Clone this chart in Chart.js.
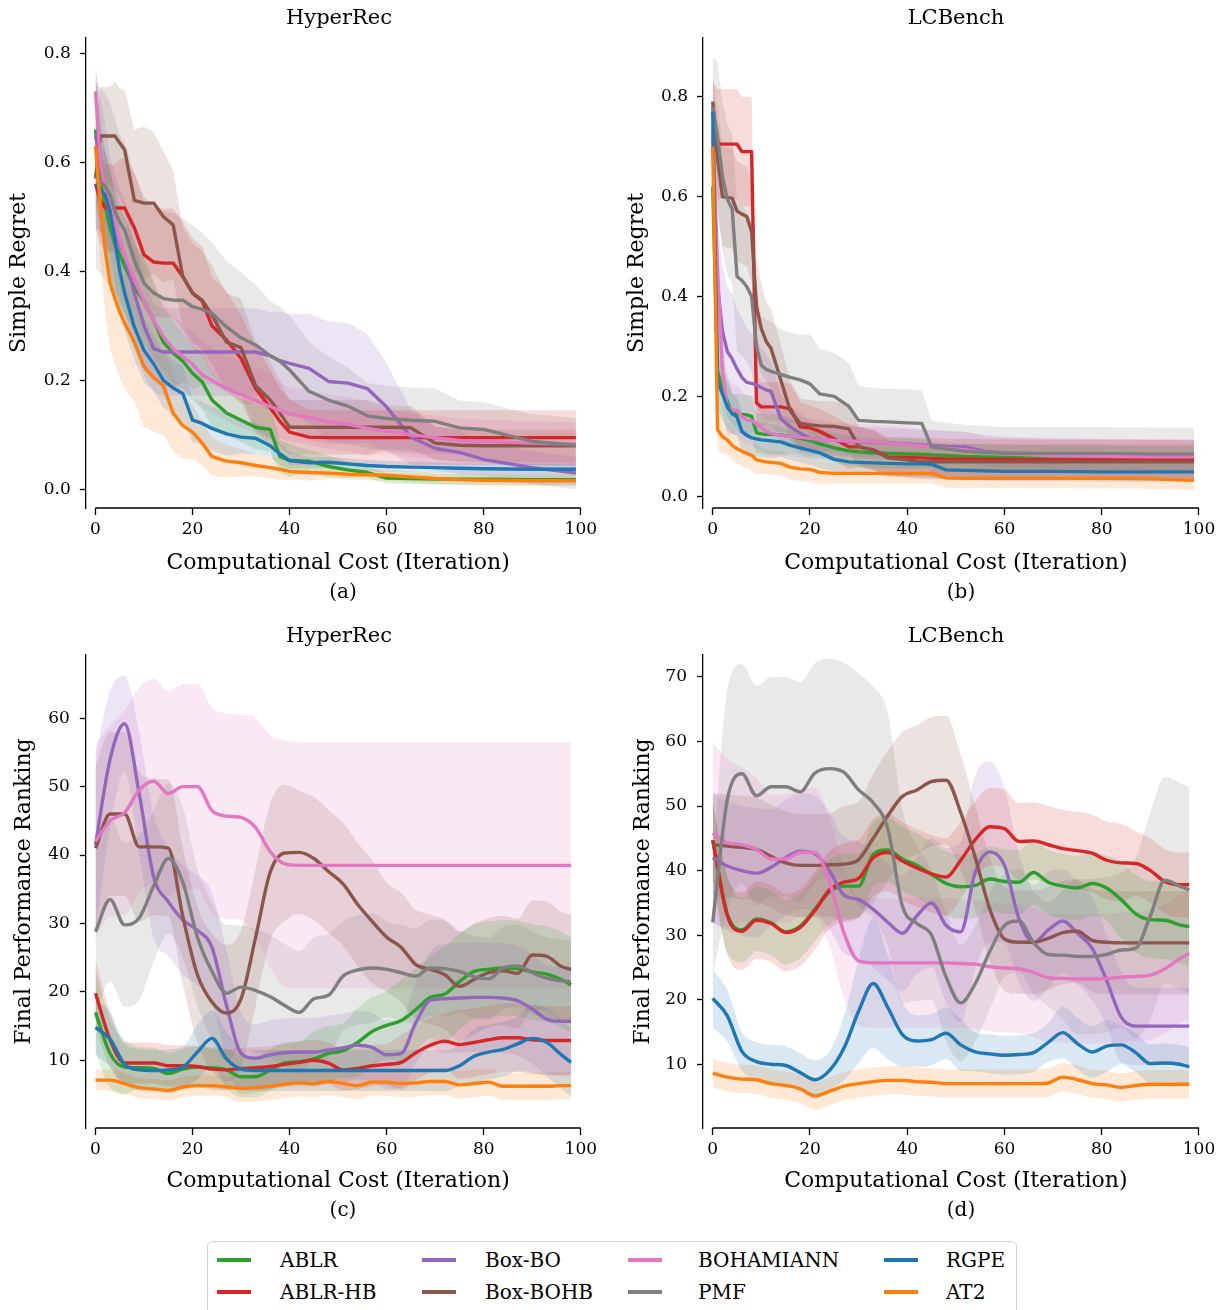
<!DOCTYPE html>
<html>
<head>
<meta charset="utf-8">
<script src="https://cdn.jsdelivr.net/npm/chart.js@4.4.0/dist/chart.umd.min.js"></script>
<style>
html, body { margin: 0; padding: 0; background: #fff; overflow: hidden; }
body { position: relative; width: 1225px; height: 1310px; font-family: 'DejaVu Serif', serif; color: #000; }
canvas { position: absolute; }
.ttl { position: absolute; font-size: 21px; line-height: 26px; white-space: nowrap; transform: translateX(-50%); }
.cap { position: absolute; font-size: 20px; line-height: 24px; white-space: nowrap; transform: translateX(-50%); }
#legend { position: absolute; left: 207px; top: 1241px; width: 808px; height: 80px; border: 1.5px solid #d4d4d4; border-radius: 5px; }
.leg-line { position: absolute; width: 34px; height: 4px; }
.leg-txt { position: absolute; font-size: 20px; line-height: 24px; white-space: nowrap; }
</style>
</head>
<body>
<canvas id="cA" width="612" height="580" style="left:0;top:0"></canvas>
<canvas id="cB" width="613" height="580" style="left:612px;top:0"></canvas>
<canvas id="cC" width="612" height="582" style="left:0;top:618px"></canvas>
<canvas id="cD" width="613" height="582" style="left:612px;top:618px"></canvas>

<div class="ttl" style="left:339px;top:4px">HyperRec</div>
<div class="ttl" style="left:956px;top:4px">LCBench</div>
<div class="ttl" style="left:339px;top:622px">HyperRec</div>
<div class="ttl" style="left:956px;top:622px">LCBench</div>
<div class="cap" style="left:343px;top:579px">(a)</div>
<div class="cap" style="left:961px;top:579px">(b)</div>
<div class="cap" style="left:343px;top:1197px">(c)</div>
<div class="cap" style="left:961px;top:1197px">(d)</div>
<div id="legend"></div>

<script>
const methods = ['ABLR', 'ABLR-HB', 'Box-BO', 'Box-BOHB', 'BOHAMIANN', 'PMF', 'RGPE', 'AT2'];
const colors = ['#2ca02c', '#d62728', '#9467bd', '#8c564b', '#e377c2', '#7f7f7f', '#1f77b4', '#ff7f0e'];

const xTicks = [0, 20, 40, 60, 80, 100];
const regretTicks = [0, 0.2, 0.4, 0.6, 0.8];
const rankTicksC = [10, 20, 30, 40, 50, 60];
const rankTicksD = [10, 20, 30, 40, 50, 60, 70];

// (a) HyperRec, simple regret
const xA = [0,1,2,3,4,5,6,8,10,12,14,16,18,20,22,24,27,30,33,36,38,40,44,48,52,56,60,65,70,75,80,90,99];
const aAblr = [0.66,0.58,0.52,0.48,0.45,0.43,0.41,0.37,0.345,0.31,0.27,0.25,0.235,0.213,0.197,0.164,0.14,0.127,0.114,0.11,0.06,0.053,0.052,0.042,0.036,0.031,0.021,0.02,0.019,0.019,0.019,0.018,0.018];
const aAblrHb = [0.56,0.53,0.516,0.516,0.516,0.516,0.516,0.48,0.43,0.417,0.415,0.415,0.39,0.36,0.345,0.30,0.274,0.24,0.185,0.15,0.125,0.105,0.096,0.095,0.095,0.095,0.095,0.095,0.095,0.095,0.095,0.095,0.095];
const aBoxBo = [0.65,0.60,0.55,0.50,0.47,0.45,0.43,0.36,0.30,0.258,0.252,0.252,0.252,0.252,0.252,0.252,0.252,0.252,0.252,0.245,0.236,0.231,0.222,0.198,0.195,0.185,0.151,0.096,0.075,0.068,0.055,0.04,0.03];
const aBoxBohb = [0.57,0.648,0.648,0.648,0.648,0.635,0.623,0.53,0.525,0.525,0.50,0.485,0.39,0.36,0.347,0.32,0.27,0.26,0.19,0.164,0.14,0.114,0.114,0.114,0.114,0.114,0.114,0.113,0.085,0.081,0.08,0.08,0.08];
const aBoham = [0.73,0.60,0.55,0.52,0.49,0.455,0.43,0.385,0.345,0.31,0.28,0.258,0.243,0.23,0.21,0.20,0.185,0.174,0.163,0.152,0.145,0.138,0.132,0.124,0.12,0.112,0.107,0.1,0.095,0.09,0.088,0.085,0.083];
const aPmf = [0.575,0.565,0.555,0.54,0.51,0.49,0.476,0.42,0.378,0.36,0.35,0.347,0.347,0.335,0.33,0.323,0.298,0.278,0.265,0.245,0.235,0.219,0.18,0.164,0.153,0.135,0.13,0.127,0.125,0.113,0.11,0.088,0.081];
const aRgpe = [0.56,0.55,0.54,0.51,0.458,0.40,0.36,0.298,0.255,0.23,0.2,0.186,0.176,0.127,0.121,0.112,0.102,0.096,0.094,0.08,0.065,0.053,0.049,0.05,0.047,0.044,0.042,0.041,0.04,0.039,0.038,0.037,0.037];
const aAt2 = [0.63,0.52,0.44,0.378,0.35,0.325,0.305,0.27,0.225,0.205,0.19,0.14,0.117,0.105,0.085,0.06,0.052,0.049,0.044,0.04,0.037,0.033,0.031,0.03,0.028,0.027,0.026,0.023,0.02,0.018,0.017,0.016,0.016];
const aAblrSd = [0.1,0.1,0.1,0.1,0.1,0.09,0.09,0.08,0.08,0.07,0.06,0.06,0.05,0.05,0.05,0.05,0.04,0.04,0.04,0.04,0.03,0.03,0.02,0.02,0.015,0.01,0.01,0.01,0.01,0.01,0.01,0.01,0.01];
const aAblrHbSd = [0.08,0.08,0.08,0.08,0.08,0.09,0.09,0.1,0.1,0.1,0.1,0.1,0.1,0.1,0.1,0.09,0.09,0.08,0.08,0.07,0.06,0.06,0.05,0.05,0.05,0.05,0.05,0.05,0.05,0.05,0.05,0.05,0.05];
const aBoxBoSd = [0.12,0.12,0.12,0.11,0.11,0.1,0.1,0.1,0.09,0.08,0.08,0.08,0.08,0.08,0.08,0.08,0.08,0.08,0.08,0.08,0.09,0.09,0.1,0.11,0.11,0.1,0.08,0.05,0.04,0.04,0.03,0.03,0.03];
const aBoxBohbSd = [0.08,0.09,0.09,0.09,0.1,0.1,0.11,0.13,0.14,0.13,0.12,0.1,0.09,0.09,0.09,0.09,0.09,0.09,0.08,0.07,0.06,0.05,0.05,0.05,0.05,0.05,0.04,0.04,0.03,0.03,0.03,0.03,0.03];
const aBohamSd = [0.06,0.07,0.07,0.07,0.07,0.07,0.07,0.07,0.07,0.07,0.06,0.06,0.06,0.06,0.06,0.06,0.06,0.06,0.06,0.06,0.05,0.05,0.05,0.05,0.05,0.05,0.04,0.04,0.04,0.04,0.04,0.04,0.04];
const aPmfSd = [0.17,0.17,0.17,0.17,0.17,0.16,0.16,0.16,0.16,0.16,0.16,0.16,0.15,0.15,0.14,0.13,0.12,0.12,0.11,0.1,0.1,0.1,0.09,0.08,0.07,0.06,0.06,0.06,0.06,0.05,0.05,0.05,0.05];
const aRgpeSd = [0.08,0.08,0.08,0.08,0.08,0.07,0.07,0.06,0.06,0.05,0.05,0.05,0.05,0.04,0.04,0.04,0.04,0.03,0.03,0.02,0.02,0.015,0.01,0.01,0.01,0.01,0.01,0.01,0.01,0.01,0.01,0.01,0.01];
const aAt2Sd = [0.06,0.1,0.12,0.12,0.12,0.12,0.12,0.11,0.11,0.1,0.09,0.07,0.06,0.05,0.04,0.035,0.03,0.025,0.02,0.02,0.02,0.015,0.015,0.01,0.01,0.01,0.01,0.01,0.01,0.01,0.01,0.01,0.01];

// (b) LCBench, simple regret
const xB = [0,1,2,3,4,5,6,7,8,9,10,11,12,14,16,18,20,22,25,28,30,33,36,40,43,45,48,52,56,60,70,80,90,99];
const bAblr = [0.62,0.25,0.215,0.19,0.166,0.165,0.164,0.163,0.16,0.127,0.125,0.124,0.124,0.123,0.12,0.116,0.112,0.105,0.097,0.091,0.089,0.087,0.086,0.085,0.084,0.083,0.082,0.08,0.079,0.078,0.077,0.076,0.075,0.075];
const bAblrHb = [0.78,0.705,0.705,0.705,0.705,0.705,0.69,0.69,0.69,0.187,0.179,0.179,0.179,0.179,0.175,0.139,0.137,0.13,0.115,0.099,0.099,0.093,0.079,0.078,0.077,0.076,0.075,0.075,0.074,0.074,0.073,0.073,0.073,0.073];
const bBoxBo = [0.72,0.42,0.33,0.29,0.275,0.255,0.238,0.228,0.226,0.223,0.218,0.213,0.21,0.155,0.139,0.126,0.116,0.114,0.112,0.11,0.109,0.108,0.107,0.105,0.103,0.102,0.1,0.099,0.09,0.087,0.085,0.084,0.083,0.082];
const bBoxBohb = [0.79,0.675,0.60,0.598,0.597,0.571,0.565,0.56,0.53,0.38,0.335,0.31,0.296,0.233,0.17,0.146,0.143,0.141,0.14,0.135,0.1,0.092,0.077,0.073,0.069,0.069,0.069,0.069,0.069,0.069,0.069,0.069,0.069,0.069];
const bBoham = [0.74,0.45,0.25,0.179,0.174,0.172,0.16,0.153,0.152,0.145,0.138,0.13,0.126,0.122,0.12,0.118,0.116,0.114,0.112,0.111,0.11,0.109,0.107,0.104,0.101,0.099,0.096,0.093,0.088,0.085,0.081,0.08,0.079,0.079];
const bPmf = [0.78,0.72,0.64,0.595,0.575,0.44,0.432,0.42,0.40,0.30,0.262,0.254,0.25,0.244,0.238,0.233,0.225,0.205,0.2,0.18,0.152,0.15,0.149,0.147,0.146,0.099,0.095,0.09,0.088,0.086,0.086,0.086,0.085,0.085];
const bRgpe = [0.77,0.23,0.205,0.179,0.165,0.159,0.13,0.122,0.117,0.115,0.113,0.112,0.111,0.109,0.102,0.097,0.092,0.087,0.074,0.069,0.068,0.067,0.066,0.065,0.065,0.064,0.053,0.052,0.051,0.05,0.05,0.049,0.049,0.049];
const bAt2 = [0.70,0.133,0.12,0.113,0.102,0.095,0.09,0.086,0.082,0.073,0.071,0.069,0.068,0.066,0.058,0.055,0.054,0.048,0.046,0.046,0.046,0.046,0.046,0.046,0.046,0.046,0.037,0.036,0.036,0.036,0.036,0.036,0.035,0.032];
const bAblrSd = [0.05,0.07,0.06,0.05,0.04,0.04,0.04,0.04,0.04,0.04,0.04,0.04,0.04,0.04,0.035,0.035,0.035,0.03,0.03,0.03,0.03,0.03,0.03,0.03,0.03,0.025,0.025,0.025,0.025,0.025,0.025,0.025,0.025,0.025];
const bAblrHbSd = [0.05,0.11,0.11,0.11,0.11,0.11,0.11,0.11,0.11,0.06,0.05,0.05,0.05,0.05,0.05,0.05,0.045,0.045,0.045,0.045,0.04,0.04,0.04,0.04,0.04,0.04,0.04,0.04,0.04,0.04,0.04,0.04,0.04,0.04];
const bBoxBoSd = [0.05,0.13,0.13,0.13,0.13,0.12,0.12,0.11,0.1,0.09,0.08,0.07,0.06,0.05,0.04,0.04,0.035,0.03,0.03,0.03,0.03,0.03,0.03,0.03,0.03,0.03,0.03,0.03,0.03,0.03,0.03,0.03,0.03,0.03];
const bBoxBohbSd = [0.05,0.1,0.1,0.1,0.1,0.1,0.1,0.1,0.1,0.1,0.09,0.08,0.08,0.07,0.06,0.05,0.05,0.05,0.05,0.05,0.04,0.04,0.035,0.035,0.035,0.035,0.035,0.035,0.035,0.035,0.035,0.035,0.035,0.035];
const bBohamSd = [0.05,0.1,0.08,0.06,0.05,0.05,0.05,0.05,0.05,0.05,0.045,0.045,0.045,0.04,0.04,0.04,0.04,0.04,0.035,0.035,0.035,0.035,0.035,0.035,0.035,0.035,0.035,0.035,0.035,0.035,0.035,0.035,0.035,0.035];
const bPmfSd = [0.1,0.15,0.15,0.15,0.15,0.15,0.15,0.15,0.15,0.12,0.1,0.1,0.1,0.09,0.09,0.09,0.1,0.09,0.087,0.087,0.07,0.067,0.067,0.067,0.067,0.053,0.053,0.053,0.053,0.053,0.053,0.053,0.053,0.053];
const bRgpeSd = [0.05,0.06,0.05,0.05,0.04,0.04,0.04,0.035,0.035,0.035,0.035,0.035,0.035,0.03,0.03,0.03,0.03,0.03,0.025,0.025,0.025,0.025,0.025,0.025,0.025,0.025,0.02,0.02,0.02,0.02,0.02,0.02,0.02,0.02];
const bAt2Sd = [0.05,0.04,0.035,0.03,0.03,0.03,0.03,0.03,0.03,0.03,0.025,0.025,0.025,0.025,0.025,0.025,0.025,0.025,0.02,0.02,0.02,0.02,0.02,0.02,0.02,0.02,0.02,0.02,0.02,0.02,0.02,0.02,0.02,0.02];

// (c) and (d) share the iteration grid
const xCD = [0,3,6,9,12,15,18,21,24,27,30,33,36,39,42,45,48,51,54,57,60,63,66,69,72,75,78,81,84,87,90,93,96,98];

// (c) HyperRec, final performance ranking
const cAblr = [17,11,9,8.9,8.8,8.1,8.7,9,8.9,8.6,7.6,7.6,8.6,9.6,9.8,10.2,11,11.4,12.6,14.2,15.1,15.8,17.4,19.2,19.7,21.5,23,23.3,23.5,23.4,22.9,22.6,21.8,21];
const cAblrHb = [19.8,13,9.6,9.6,9.6,9.2,9.2,9.1,8.7,8.6,8.8,8.9,9.1,9.4,9.7,10,9.6,8.6,8.8,9.2,9.4,9.7,11.1,12.2,12.8,12.3,12.6,13,13.3,13.3,13,12.9,12.9,12.9];
const cBoxBo = [41.5,54,59.2,49,36.8,33.2,30.5,29,26.5,18,11,10.3,10.8,11.1,11.2,11.2,11.5,11.8,12.2,11.9,10.8,11,15.5,18.8,19,19.1,19.2,19.2,19.1,18.7,17.5,16,15.7,15.7];
const cBoxBohb = [41,46,46,41.2,41.2,41,31,22.5,18.5,16.9,19,28,37.5,40.3,40.4,39.5,37.6,35.8,32.8,30.3,28,26.5,24,23.3,22.5,20.8,21.8,22.8,23.1,22.7,25.4,25.2,23.7,23.3];
const cBoham = [42,45,46.2,49.5,50.8,49,50,50,46.5,45.7,45.5,44,40.5,38.7,38.5,38.5,38.5,38.5,38.5,38.5,38.5,38.5,38.5,38.5,38.5,38.5,38.5,38.5,38.5,38.5,38.5,38.5,38.5,38.5];
const cPmf = [28.8,33.5,29.8,30.8,35.5,39.5,36,28,23,19.8,20.7,20.2,19.3,18,17,19,19.5,22.3,23.2,23.5,23.3,22.8,22.3,23.5,23.4,23,22.2,21.9,23.5,23.8,22.8,22,21.6,21.5];
const cRgpe = [14.8,13.1,9.4,8.6,8.5,8.6,9,11.2,13.2,10.2,8.7,8.5,8.5,8.5,8.5,8.5,8.5,8.5,8.5,8.5,8.5,8.5,8.5,8.5,8.5,9.2,10.6,11.2,11.6,12.4,13.2,12.6,10.8,9.7];
const cAt2 = [7.1,7.1,6.6,6,5.8,5.6,6.1,6.3,6.3,6.1,5.9,6,6.2,6.5,6.7,6.6,6.9,6.6,6.3,6.8,6.8,6.6,6.7,6.9,6.9,6.4,6.6,6.8,6.2,6.2,6.2,6.2,6.3,6.3];
const cAblrSd = [6,5,4,3,3,3,3,3,3,3,3,3,3,3,3,4,4,4,5,5,5,6,6,6,7,7,7,7,7,7,7,7,7,7];
const cAblrHbSd = [5,4,3,3,3,3,3,3,3,3,3,3,3,3,3,3,3,3,3,3,3,4,4,4,4,5,5,5,5,5,5,5,5,5];
const cBoxBoSd = [13,10,7,9,9,8,8,8,8,8,6,5,5,5,5,5,5,5,5,5,5,5,6,7,8,8,8,8,8,8,8,8,8,8];
const cBoxBohbSd = [12,12,12,11,10,10,10,10,10,10,10,10,10,10,9,9,9,9,9,9,8,8,8,8,8,8,8,8,8,8,8,8,8,8];
const cBohamSd = [14,14,15,15,15,15,15,15,15,15,15,16,17,18,18,18,18,18,18,18,18,18,18,18,18,18,18,18,18,18,18,18,18,18];
const cPmfSd = [12,12,12,12,11,11,11,10,10,10,9,9,9,9,9,9,9,8,8,8,7,7,7,7,7,6,6,6,6,6,6,6,6,6];
const cRgpeSd = [4,4,3,3,3,3,3,4,4,4,3,3,3,3,3,3,3,3,3,3,3,3,3,3,3,3,4,4,4,4,5,5,5,5];
const cAt2Sd = [1.5,1.5,1.5,1.5,1.5,1.5,1.5,1.5,1.5,1.5,2,2,2,2,2,2,2,2,2,2,2,2,2,2,2,2,2,2,2,2,2,2,2,2];

// (d) LCBench, final performance ranking
const dAblr = [44.7,33.3,30.8,32.5,31.9,30.5,31.4,34,36.7,37.6,37.6,42.5,43.2,41.8,40.8,39.4,38,37.5,37.7,38.7,38.3,38.2,39.7,38.2,37.6,37.3,38,37.3,35.5,33.3,32.4,32.3,31.6,31.3];
const dAblrHb = [44.7,33,30.6,32.3,31.8,30.4,31.2,33.8,37,38.2,38.8,42,42.8,41.5,40.4,39.5,39,41.6,44.8,46.8,46.5,44.5,44.6,44,43.4,43.1,42.7,41.6,41.2,41.1,40,38.3,37.8,37.8];
const dBoxBo = [42,40.7,40,39.6,40.5,42,43,42.6,40,36.2,35.5,34,32,30.3,33,35,31.5,30.5,39.8,42.9,40.8,32.5,28.8,30.8,32.2,30.3,28,23,17.3,15.9,15.9,15.9,15.9,15.9];
const dBoxBohb = [44,43.8,43.6,43.3,42.2,41.2,40.8,40.8,40.9,41,41.7,45,48.5,51.5,52.5,53.8,54,49,42,34,29.4,28.9,28.9,29.5,30.4,30.6,29.2,28.9,28.8,28.8,28.8,28.8,28.8,28.8];
const dBoham = [45.8,44.3,44,43.3,41.8,41.8,42.8,42.8,38.3,30.3,26,25.7,25.7,25.7,25.7,25.7,25.7,25.6,25.5,25.1,24.9,24.8,24.2,23.4,23.3,23.2,23.2,23.3,23.5,23.6,23.8,24.8,26.3,27.2];
const dPmf = [32,51,55,51.6,53,53,52.2,55.1,55.8,55.2,52.5,50.5,46.5,34.5,31.8,30,23.5,19.5,22.5,27.5,31.5,32.2,28.8,27,26.9,26.7,26.7,27,27.7,28,33,38.5,37.6,37];
const dRgpe = [20.2,17.5,12,10.4,10,9.8,8.7,7.6,9,12.5,18.2,22.5,18.8,14.6,13.6,13.8,14.8,13,11.9,11.6,11.4,11.5,11.8,13.4,14.9,13.2,11.9,12.8,13,11.8,10.1,10.2,10,9.6];
const dAt2 = [8.6,8,7.7,7.6,7,6.7,6.2,5.1,5.8,6.6,7,7.3,7.5,7.5,7.3,7.2,7,7,7,7,7,7,7,7.1,8,7.6,7,6.8,6.4,6.7,6.9,6.9,6.9,6.9];
const dAblrSd = [6,6,5,5,5,5,5,5,5,5,5,5,5,5,5,5,5,5,5,5,5,5,5,5,5,5,5,5,6,6,6,6,6,6];
const dAblrHbSd = [6,6,6,6,6,6,6,6,6,6,6,6,6,6,6,6,6,6,6,6,6,6,6,6,6,6,6,6,6,5,5,5,5,5];
const dBoxBoSd = [10,10,10,10,9,9,9,9,9,9,9,9,9,9,9,10,12,14,15,14,12,10,9,9,8,8,8,7,7,6,6,6,6,6];
const dBoxBohbSd = [8,8,8,8,8,8,8,8,8,9,9,10,10,10,10,10,10,9,8,8,8,8,8,8,8,8,8,8,8,8,8,8,8,8];
const dBohamSd = [14,13,12,11,10,10,10,10,10,10,10,10,10,10,10,10,10,10,10,10,10,10,10,10,10,10,10,10,10,10,10,10,10,10];
const dPmfSd = [8,17,17,17,17,17,17,17,17,17,18,18,18,15,12,10,10,9,9,9,8,8,8,8,10,12,12,12,12,14,16,16,16,16];
const dRgpeSd = [4.5,4,3,3,3,3,3,3,3,5,8,10,8,5,4,4,4,4,3,3,3,3,3,3,4,4,4,4,3,3,3,3,3,3];
const dAt2Sd = [2.2,2.2,2.2,2.2,2.2,2.2,2.2,2.2,2.2,2.2,2.2,2.2,2.2,2.2,2.2,2.2,2.2,2.2,2.2,2.2,2.2,2.2,2.2,2.2,2.2,2.2,2.2,2.2,2.2,2.2,2.2,2.2,2.2,2.2];

const FONT = "'DejaVu Serif', serif";

function rgba(hex, a) {
  const n = parseInt(hex.slice(1), 16);
  return 'rgba(' + (n >> 16) + ',' + ((n >> 8) & 255) + ',' + (n & 255) + ',' + a + ')';
}

function pts(xs, ys) {
  return xs.map(function (x, i) { return { x: x, y: ys[i] }; });
}

// band (mean +/- sd) then the mean line, for every method
function buildSets(xs, means, sds, smooth) {
  const mode = smooth ? 'monotone' : 'default';
  let sets = [];
  means.forEach(function (m, i) {
    const s = sds[i];
    const lo = m.map(function (v, k) { return v - s[k]; });
    const hi = m.map(function (v, k) { return v + s[k]; });
    sets.push({ data: pts(xs, lo), borderColor: 'rgba(0,0,0,0)', borderWidth: 0, pointRadius: 0,
                fill: false, cubicInterpolationMode: mode, order: 20 });
    sets.push({ data: pts(xs, hi), borderColor: 'rgba(0,0,0,0)', borderWidth: 0, pointRadius: 0,
                fill: '-1', backgroundColor: rgba(colors[i], 0.17), cubicInterpolationMode: mode, order: 20 });
    sets.push({ label: methods[i], data: pts(xs, m), borderColor: colors[i], borderWidth: 3.4,
                pointRadius: 0, fill: false, cubicInterpolationMode: mode, order: 8 - i,
                borderJoinStyle: 'round' });
  });
  return sets;
}

// bottom spine only spans the 0..100 ticks, like a trimmed matplotlib axis
const spinePlugin = {
  id: 'spine',
  afterDraw: function (chart) {
    const ctx = chart.ctx, x = chart.scales.x, b = chart.chartArea.bottom;
    ctx.save();
    ctx.strokeStyle = '#000';
    ctx.lineWidth = 1.3;
    ctx.beginPath();
    ctx.moveTo(x.getPixelForValue(0), b);
    ctx.lineTo(x.getPixelForValue(100), b);
    ctx.stroke();
    ctx.restore();
  }
};

function makeChart(id, c) {
  new Chart(document.getElementById(id), {
    type: 'line',
    data: { datasets: buildSets(c.xs, c.means, c.sds, c.smooth) },
    options: {
      responsive: false,
      animation: false,
      events: [],
      layout: { padding: { left: 0, right: c.padR, top: c.padT, bottom: 0 } },
      plugins: {
        legend: { display: false },
        tooltip: { enabled: false },
        filler: { drawTime: 'beforeDatasetsDraw' }
      },
      scales: {
        x: {
          type: 'linear', min: -2, max: 102,
          afterBuildTicks: function (s) { s.ticks = xTicks.map(function (v) { return { value: v }; }); },
          afterFit: function (s) { s.height = 72; s.paddingLeft = 0; s.paddingRight = 0; },
          grid: { display: true, drawOnChartArea: false, tickLength: 7, tickWidth: 1.3, tickColor: '#000' },
          border: { display: false },
          ticks: { color: '#000', font: { family: FONT, size: 17 }, padding: 4, maxRotation: 0, autoSkip: false },
          title: { display: true, text: 'Computational Cost (Iteration)', color: '#000',
                   font: { family: FONT, size: 22 }, padding: { top: 0, bottom: c.xTitlePad } }
        },
        y: {
          type: 'linear', min: c.yMin, max: c.yMax,
          afterBuildTicks: function (s) { s.ticks = c.yTicks.map(function (v) { return { value: v }; }); },
          afterFit: function (s) { s.width = c.yWidth; s.paddingTop = 0; s.paddingBottom = 0; },
          grid: { display: true, drawOnChartArea: false, tickLength: 6, tickWidth: 1.3, tickColor: '#000' },
          border: { display: true, color: '#000', width: 1.3 },
          ticks: { color: '#000', font: { family: FONT, size: 17 }, padding: c.yTickPad, autoSkip: false,
                   callback: c.fmt },
          title: { display: true, text: c.yTitle, color: '#000',
                   font: { family: FONT, size: 22 }, padding: { top: c.yTitlePad, bottom: 0 } }
        }
      }
    },
    plugins: [spinePlugin]
  });
}

const fmtRegret = function (v) { return v.toFixed(1); };
const fmtRank = function (v) { return String(v); };

makeChart('cA', {
  xs: xA, smooth: false,
  means: [aAblr, aAblrHb, aBoxBo, aBoxBohb, aBoham, aPmf, aRgpe, aAt2],
  sds: [aAblrSd, aAblrHbSd, aBoxBoSd, aBoxBohbSd, aBohamSd, aPmfSd, aRgpeSd, aAt2Sd],
  yMin: -0.034, yMax: 0.8277, yTicks: regretTicks, fmt: fmtRegret, yTitle: 'Simple Regret',
  yWidth: 85.8, padR: 21.5, padT: 38, yTickPad: 9, yTitlePad: 5.8, xTitlePad: 3.8
});
makeChart('cB', {
  xs: xB, smooth: false,
  means: [bAblr, bAblrHb, bBoxBo, bBoxBohb, bBoham, bPmf, bRgpe, bAt2],
  sds: [bAblrSd, bAblrHbSd, bBoxBoSd, bBoxBohbSd, bBohamSd, bPmfSd, bRgpeSd, bAt2Sd],
  yMin: -0.0234, yMax: 0.9175, yTicks: regretTicks, fmt: fmtRegret, yTitle: 'Simple Regret',
  yWidth: 91, padR: 16.3, padT: 38, yTickPad: 9, yTitlePad: 11.8, xTitlePad: 3.8
});
makeChart('cC', {
  xs: xCD, smooth: true,
  means: [cAblr, cAblrHb, cBoxBo, cBoxBohb, cBoham, cPmf, cRgpe, cAt2],
  sds: [cAblrSd, cAblrHbSd, cBoxBoSd, cBoxBohbSd, cBohamSd, cPmfSd, cRgpeSd, cAt2Sd],
  yMin: 0.1, yMax: 69.25, yTicks: rankTicksC, fmt: fmtRank, yTitle: 'Final Performance Ranking',
  yWidth: 85.8, padR: 21.5, padT: 37, yTickPad: 10, yTitlePad: 10.8, xTitlePad: 5.8
});
makeChart('cD', {
  xs: xCD, smooth: true,
  means: [dAblr, dAblrHb, dBoxBo, dBoxBohb, dBoham, dPmf, dRgpe, dAt2],
  sds: [dAblrSd, dAblrHbSd, dBoxBoSd, dBoxBohbSd, dBohamSd, dPmfSd, dRgpeSd, dAt2Sd],
  yMin: 0.12, yMax: 73.4, yTicks: rankTicksD, fmt: fmtRank, yTitle: 'Final Performance Ranking',
  yWidth: 91, padR: 16.3, padT: 37, yTickPad: 10, yTitlePad: 17.8, xTitlePad: 5.8
});

// shared legend, filled column by column
const legLineX = [9, 214, 420, 676];
const legTextX = [72, 277, 490, 738];
const legRowY = [18, 50];
const leg = document.getElementById('legend');
methods.forEach(function (name, i) {
  const col = Math.floor(i / 2), row = i % 2;
  const line = document.createElement('div');
  line.className = 'leg-line';
  line.style.left = legLineX[col] + 'px';
  line.style.top = (legRowY[row] - 2) + 'px';
  line.style.background = colors[i];
  leg.appendChild(line);
  const txt = document.createElement('div');
  txt.className = 'leg-txt';
  txt.style.left = legTextX[col] + 'px';
  txt.style.top = (legRowY[row] - 12) + 'px';
  txt.textContent = name;
  leg.appendChild(txt);
});
</script>
</body>
</html>
